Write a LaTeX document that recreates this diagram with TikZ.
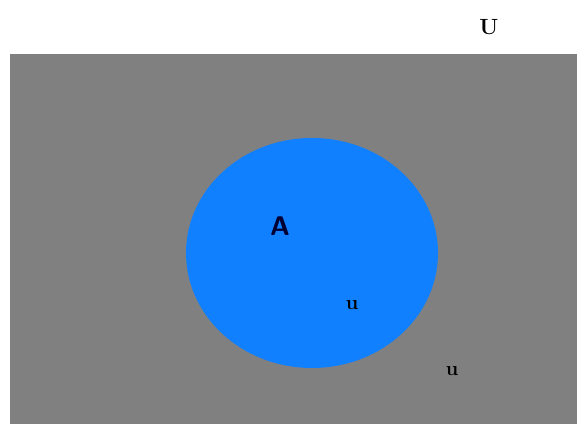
\documentclass[tikz,border=0pt]{standalone}
\usepackage{tikz}
\usetikzlibrary{positioning}
\definecolor{venngray}{RGB}{128,128,128}
\definecolor{vennblue}{RGB}{16,128,255}
\begin{document}
\begin{tikzpicture}[
  x=1pt,y=1pt,
  universe/.style={fill=venngray,draw=none},
  setA/.style={fill=vennblue,draw=none},
  label/.style={inner sep=0pt,font=\bfseries\fontsize{20}{22}\selectfont},
  setlabel/.style={inner sep=0pt,font=\sffamily\bfseries\fontsize{27}{30}\selectfont,text=black!80!blue}
]
\useasboundingbox (0,0) rectangle (578,427);
% universe and set
\fill[universe] (10,3) rectangle (577,373);
\fill[setA] (312,174) ellipse [x radius=126,y radius=115];
% labels
\node[label,font=\bfseries\fontsize{22}{24}\selectfont] (univ) at (489,400) {U};
\node[setlabel] (nameA) at (280,201) {A};
\node[label] (elemin) at (352,122) {u};
\node[label] (elemout) at (452,56) {u};
\end{tikzpicture}
\end{document}
